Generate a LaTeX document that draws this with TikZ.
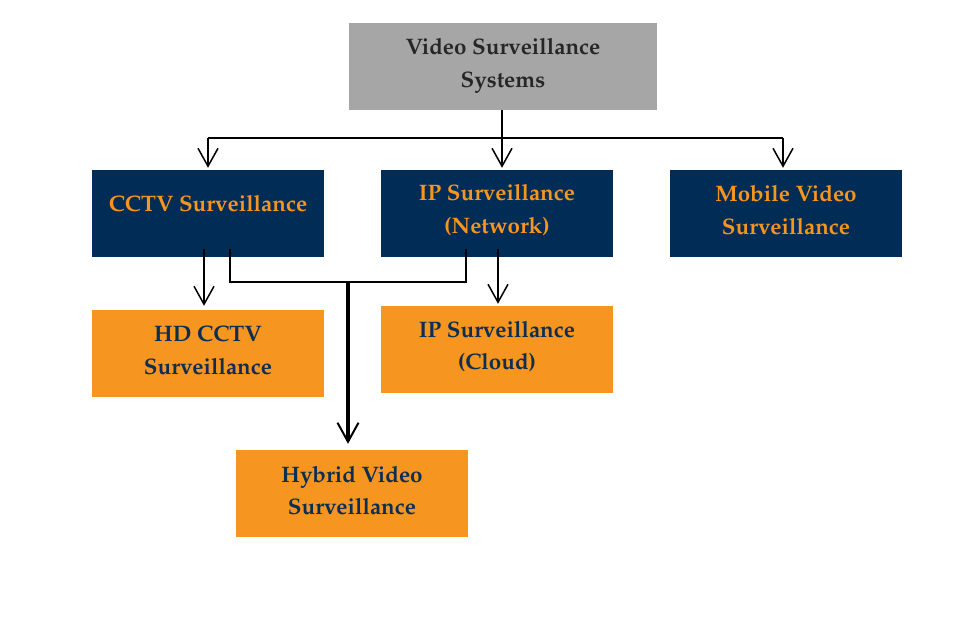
\documentclass[tikz,border=0pt]{standalone}
\usepackage[T1]{fontenc}
\usepackage{mathpazo}
\usetikzlibrary{arrows.meta,calc}

\definecolor{boxgray}{HTML}{A6A6A6}
\definecolor{navy}{HTML}{002C55}
\definecolor{amber}{HTML}{F6951F}
\definecolor{inkgray}{HTML}{262626}
\definecolor{inknavy}{HTML}{0D2E50}

\tikzset{
  base/.style={rectangle, minimum width=232pt, minimum height=87pt, inner sep=0pt},
  caption/.style={inner sep=0pt, align=center, font=\fontsize{22.4}{32.5}\selectfont\bfseries},
  rootbox/.style={base, fill=boxgray, minimum width=308pt},
  navybox/.style={base, fill=navy},
  amberbox/.style={base, fill=amber},
  graytxt/.style={caption, text=inkgray},
  ambertxt/.style={caption, text=amber},
  navytxt/.style={caption, text=inknavy},
  link/.style={draw=black, line width=1.6pt},
  arr/.style={link, -{Straight Barb[length=18pt,width=20pt,line width=1.5pt]}},
  bigarr/.style={draw=black, line width=3.2pt,
    -{Straight Barb[length=19pt,width=21pt,line width=2pt]}}
}

\begin{document}
\begin{tikzpicture}[x=1pt, y=-1pt]
  \useasboundingbox (0,0) rectangle (971,617);

  % boxes, each with its caption set as a centred label
  \node[rootbox, label={[graytxt, yshift=0.5pt]center:{Video Surveillance\\[0.5pt]Systems}}]
    (top) at (503,66.5) {};
  \node[navybox, label={[ambertxt, yshift=10pt]center:{CCTV Surveillance}}]
    (cctv) at (208,213.5) {};
  \node[navybox, label={[ambertxt, yshift=3.5pt]center:{IP Surveillance\\(Network)}}]
    (ipn) at (497,213.5) {};
  \node[navybox, label={[ambertxt, yshift=3.5pt]center:{Mobile Video\\Surveillance}}]
    (mobile) at (786,213.5) {};
  \node[amberbox, label={[navytxt, yshift=3pt]center:{HD CCTV\\Surveillance}}]
    (hd) at (208,353.5) {};
  \node[amberbox, label={[navytxt, yshift=3pt]center:{IP Surveillance\\(Cloud)}}]
    (ipc) at (497,349.5) {};
  \node[amberbox, label={[navytxt, yshift=3pt]center:{Hybrid Video\\Surveillance}}]
    (hybrid) at (352,493.5) {};

  % root to second level
  \coordinate (hub) at ($(top.south)+(-1,28)$);
  \draw[link] ($(top.south)+(-1,0)$) -- (hub);
  \draw[link, line width=2.8pt] ($(hub)+(0,-14)$) -- (hub);
  \draw[link] (hub) -- (hub -| cctv.north);
  \draw[link] (hub) -- ($(hub -| mobile.north)+(-3,0)$);
  \draw[arr] (hub -| cctv.north) -- ($(cctv.north)+(0,-2)$);
  \draw[arr] (hub) -- ($(ipn.north)+(5,-2)$);
  \draw[arr] ($(hub -| mobile.north)+(-3,0)$) -- ($(mobile.north)+(-3,-2)$);

  % second level to third level
  \draw[arr] ($(cctv.south)+(-4,-8)$) -- ($(hd.north)+(-4,-4)$);
  \draw[arr] ($(ipn.south)+(1,-8)$) -- ($(ipc.north)+(1,-2)$);

  % CCTV and IP (Network) joining into hybrid
  \coordinate (join) at ($(hybrid.north)+(-4,-168)$);
  \draw[link] ($(cctv.south)+(22,-8)$) |- (join) -| ($(ipn.south)+(-31,-8)$);
  \draw[bigarr] (join) -- ($(hybrid.north)+(-4,-6)$);
\end{tikzpicture}
\end{document}
